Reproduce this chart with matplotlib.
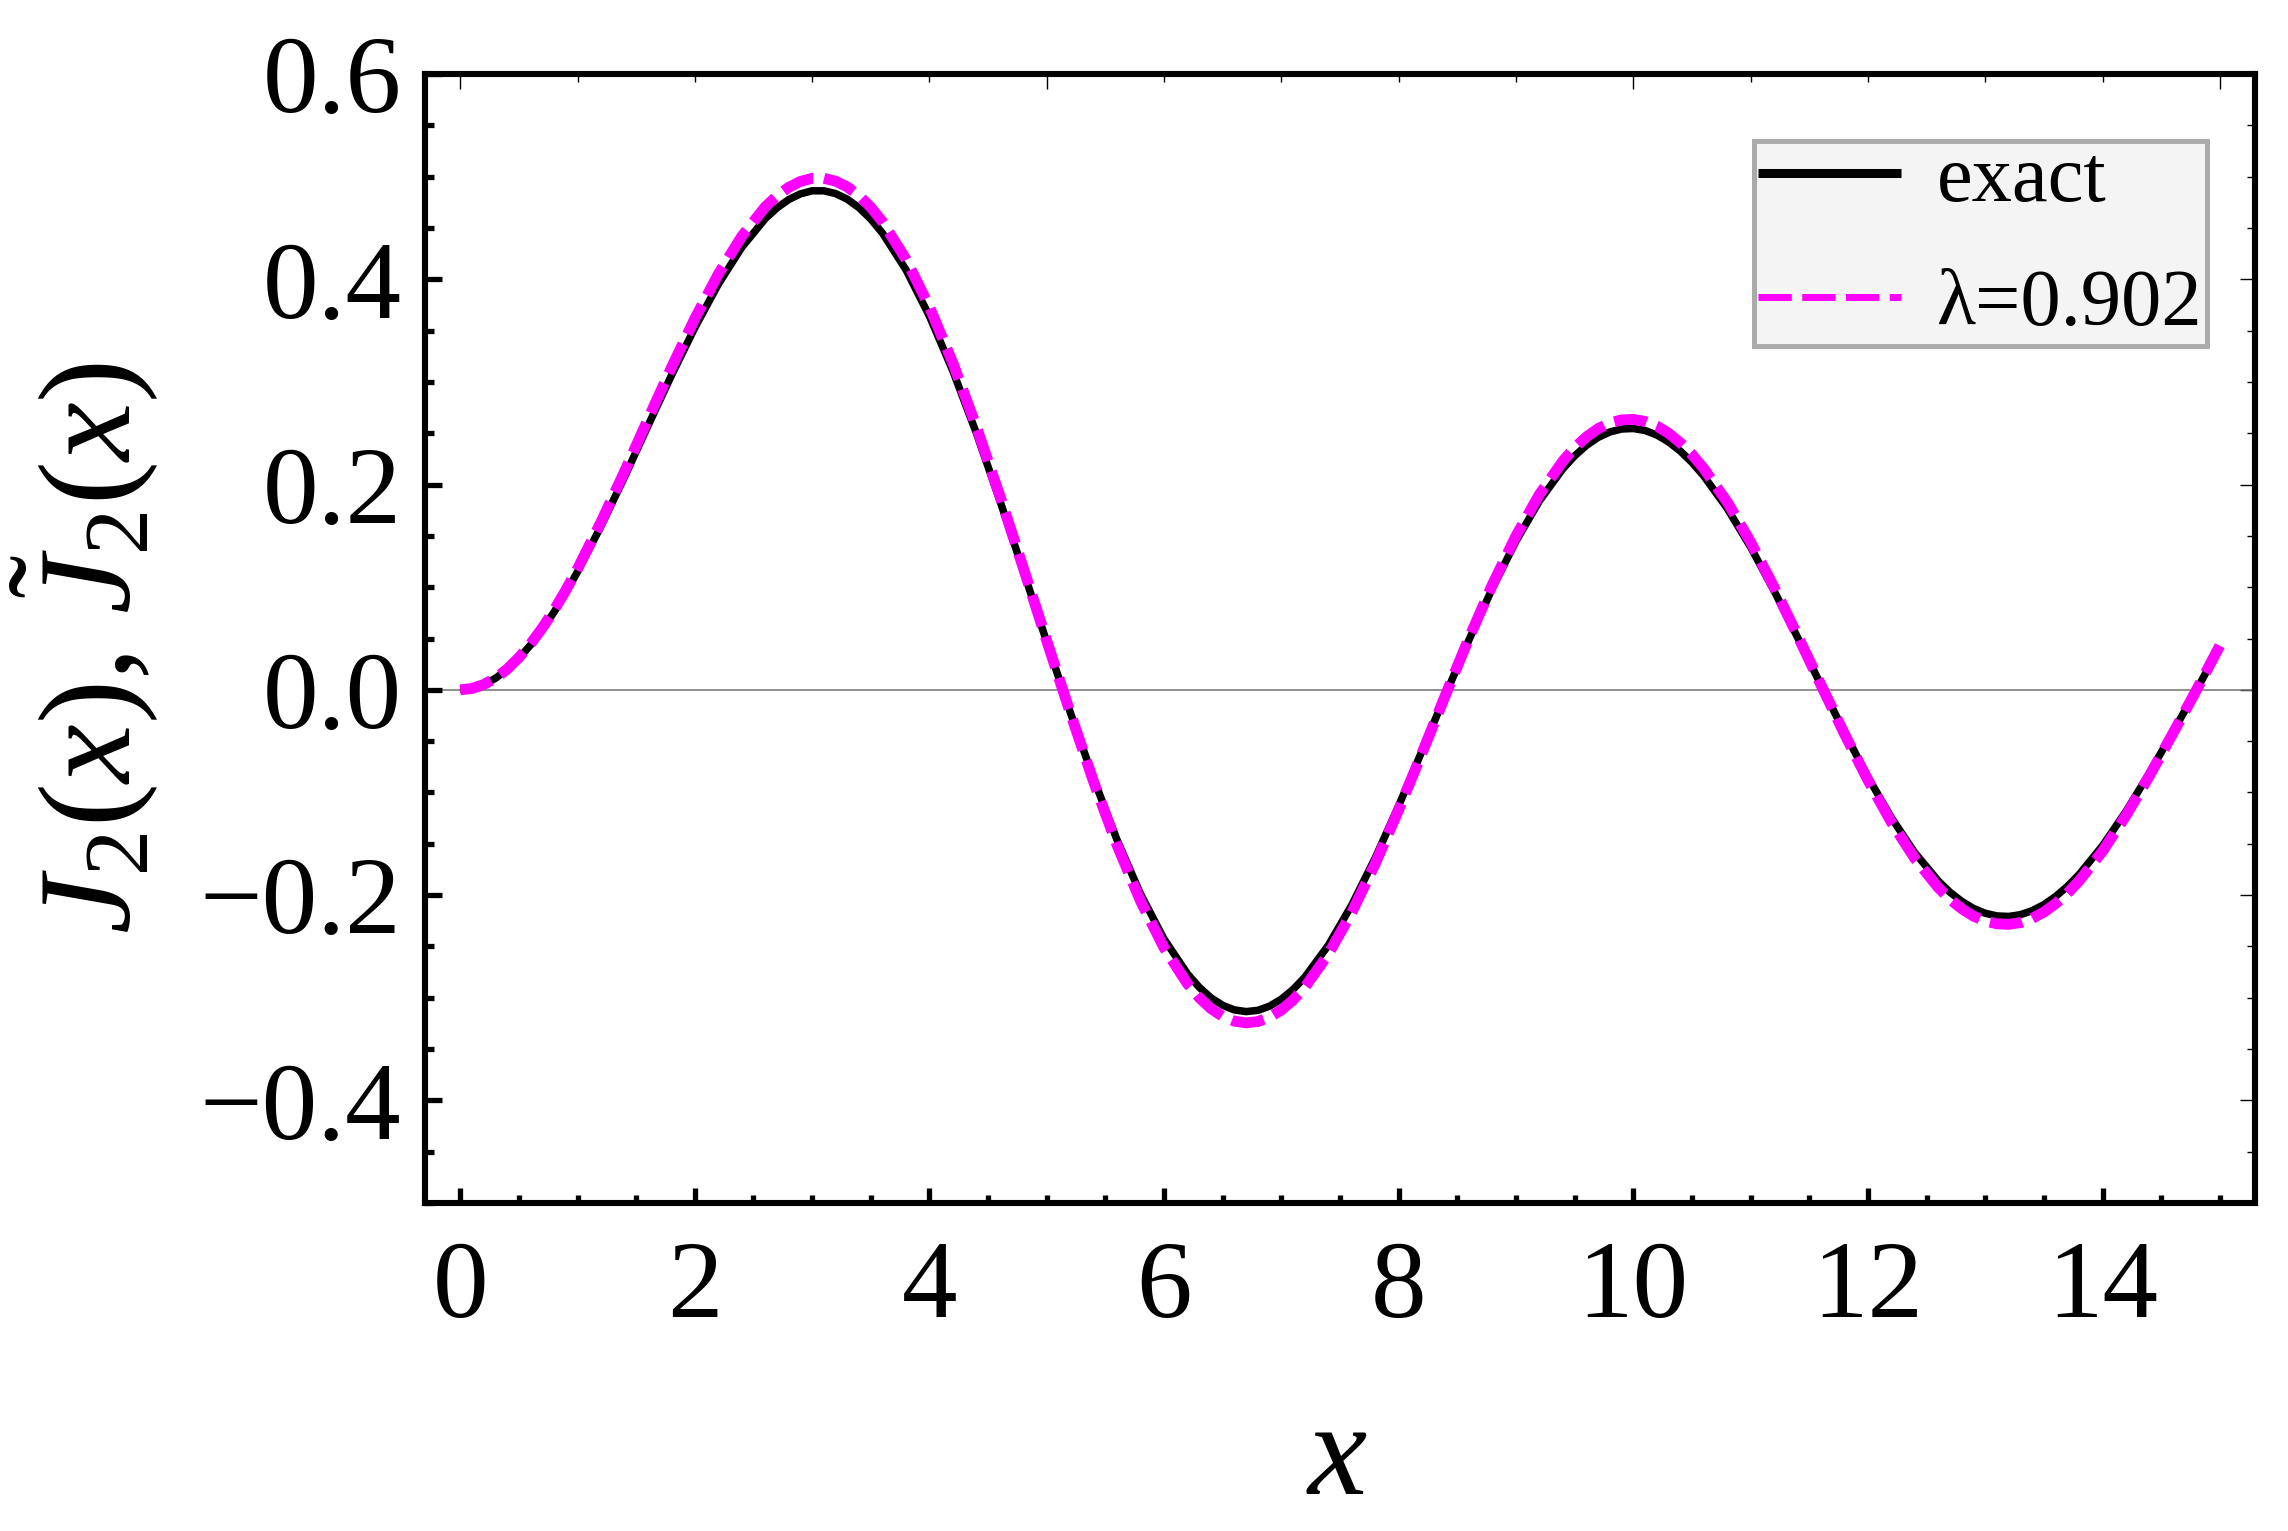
import matplotlib
matplotlib.use("Agg")
import matplotlib.pyplot as plt
from matplotlib.lines import Line2D
from matplotlib.ticker import MultipleLocator, FixedLocator

# ---------------- data ----------------
x_vals = [0.0, 0.2, 0.4, 0.6, 0.8, 1.0, 1.2, 1.4, 1.6, 1.8, 2.0, 2.2, 2.4, 2.6, 2.8,
          3.0, 3.2, 3.4, 3.6, 3.8, 4.0, 4.2, 4.4, 4.6, 4.8, 5.0, 5.2, 5.4, 5.6, 5.8,
          6.0, 6.2, 6.4, 6.6, 6.8, 7.0, 7.2, 7.4, 7.6, 7.8, 8.0, 8.2, 8.4, 8.6, 8.8,
          9.0, 9.2, 9.4, 9.6, 9.8, 10.0, 10.2, 10.4, 10.6, 10.8, 11.0, 11.2, 11.4, 11.6, 11.8,
          12.0, 12.2, 12.4, 12.6, 12.8, 13.0, 13.2, 13.4, 13.6, 13.8, 14.0, 14.2, 14.4, 14.6, 14.8,
          15.0]

exact_vals = [0.0, 0.0050, 0.0196, 0.0437, 0.0757, 0.1150, 0.1594, 0.2072, 0.2570, 0.3061,
              0.3528, 0.3951, 0.4310, 0.4590, 0.4776, 0.4862, 0.4835, 0.4697, 0.4449, 0.4093,
              0.3641, 0.3106, 0.2501, 0.1845, 0.1160, 0.0466, -0.0217, -0.0867, -0.1464, -0.1989,
              -0.2428, -0.2768, -0.3001, -0.3119, -0.3123, -0.3014, -0.2800, -0.2490, -0.2097, -0.1638,
              -0.1130, -0.0593, -0.0047, 0.0488, 0.0992, 0.1448, 0.1840, 0.2154, 0.2381, 0.2512,
              0.2546, 0.2483, 0.2327, 0.2085, 0.1769, 0.1391, 0.0966, 0.0512, 0.0046, -0.0414,
              -0.0849, -0.1246, -0.1587, -0.1862, -0.2061, -0.2177, -0.2208, -0.2152, -0.2014, -0.1800,
              -0.1520, -0.1185, -0.0810, -0.0411, -0.0004, 0.0415]

approx_vals = [0.0, 0.0051, 0.0201, 0.0448, 0.0776, 0.1179, 0.1634, 0.2124, 0.2634, 0.3138,
               0.3616, 0.4050, 0.4418, 0.4705, 0.4895, 0.4984, 0.4956, 0.4814, 0.4560, 0.4195,
               0.3732, 0.3184, 0.2564, 0.1891, 0.1189, 0.0478, -0.0222, -0.0897, -0.1515, -0.2059,
               -0.2513, -0.2865, -0.3106, -0.3228, -0.3232, -0.3119, -0.2898, -0.2577, -0.2170, -0.1695,
               -0.1170, -0.0614, -0.0049, 0.0505, 0.1027, 0.1499, 0.1904, 0.2229, 0.2464, 0.2600,
               0.2635, 0.2570, 0.2408, 0.2158, 0.1831, 0.1440, 0.1000, 0.0530, 0.0048, -0.0428,
               -0.0879, -0.1290, -0.1643, -0.1927, -0.2133, -0.2253, -0.2285, -0.2227, -0.2084, -0.1863,
               -0.1573, -0.1226, -0.0838, -0.0425, -0.0004, 0.0430]

# extra readings where the curves bend most (start and around the extrema)
x_extra = [0.1, 0.3, 0.5, 0.7, 0.9,
           2.7, 2.9, 3.1, 3.3, 3.5,
           6.3, 6.5, 6.7, 6.9, 7.1,
           9.5, 9.7, 9.9, 10.1, 10.3, 10.5,
           12.7, 12.9, 13.1, 13.3, 13.5, 13.7]
exact_extra = [0.0013, 0.0112, 0.0306, 0.0588, 0.0946,
               0.4695, 0.4832, 0.4862, 0.4780, 0.4587,
               -0.2898, -0.3074, -0.3135, -0.3082, -0.2920,
               0.2279, 0.2459, 0.2541, 0.2527, 0.2416, 0.2216,
               -0.1972, -0.2130, -0.2203, -0.2191, -0.2093, -0.1916]
approx_extra = [0.0013, 0.0114, 0.0314, 0.0603, 0.0970,
                0.4812, 0.4953, 0.4984, 0.4900, 0.4702,
                -0.2999, -0.3182, -0.3245, -0.3190, -0.3022,
                0.2359, 0.2545, 0.2630, 0.2615, 0.2501, 0.2294,
                -0.2041, -0.2205, -0.2280, -0.2268, -0.2166, -0.1983]

series_labels = ["exact", "\u03bb=0.902"]

x_ticks = [0, 2, 4, 6, 8, 10, 12, 14]
x_tick_labels = ["0", "2", "4", "6", "8", "10", "12", "14"]
y_ticks = [-0.4, -0.2, 0.0, 0.2, 0.4, 0.6]
y_tick_labels = ["\u22120.4", "\u22120.2", "0.0", "0.2", "0.4", "0.6"]
top_major_ticks = [0, 5, 10, 15]
top_minor_ticks = [1, 2, 3, 4, 6, 7, 8, 9, 11, 12, 13, 14]

x_label = "$x$"
y_label = r"$J_2(x)$, $\tilde{J}_2(x)$"

# merge the readings in x order
exact_pts = sorted(zip(x_vals + x_extra, exact_vals + exact_extra))
approx_pts = sorted(zip(x_vals + x_extra, approx_vals + approx_extra))
xe = [p[0] for p in exact_pts]
ye = [p[1] for p in exact_pts]
xa = [p[0] for p in approx_pts]
ya = [p[1] for p in approx_pts]

# ---------------- style ----------------
plt.rcParams["font.family"] = ["Liberation Serif", "DejaVu Serif"]
plt.rcParams["mathtext.fontset"] = "custom"
plt.rcParams["mathtext.rm"] = "Liberation Serif"
plt.rcParams["mathtext.it"] = "Liberation Serif:italic"
plt.rcParams["mathtext.bf"] = "Liberation Serif:bold"
plt.rcParams["lines.scale_dashes"] = False

W, H = 2288, 1531
DPI = 100
fig = plt.figure(figsize=(W / DPI, H / DPI), dpi=DPI)

ax_l, ax_r, ax_t, ax_b = 425, 2255, 74, 1203
ax = fig.add_axes([ax_l / W, 1 - ax_b / H, (ax_r - ax_l) / W, (ax_b - ax_t) / H])

ax.set_xlim(-0.3, 15.3)
ax.set_ylim(-0.5, 0.6)

ax.axhline(0.0, color="#707070", lw=1.1, zorder=1)

ax.plot(xe, ye, color="black", lw=5.4, solid_capstyle="butt",
        solid_joinstyle="round", zorder=2)
ax.plot(xa, ya, color="#ff00ff", lw=7.8, dashes=(23.5, 7.8),
        dash_capstyle="butt", dash_joinstyle="round", zorder=3)

for s in ax.spines.values():
    s.set_linewidth(4.4)
    s.set_color("black")

ax.set_xticks(x_ticks)
ax.set_xticklabels(x_tick_labels)
ax.set_yticks(y_ticks)
ax.set_yticklabels(y_tick_labels)
ax.xaxis.set_minor_locator(MultipleLocator(0.5))
ax.yaxis.set_minor_locator(MultipleLocator(0.05))

ax.tick_params(axis="both", which="both", direction="in", top=False, right=False,
               labelsize=80, color="black")
ax.tick_params(axis="y", which="major", length=12, width=3.8, pad=17)
ax.tick_params(axis="y", which="minor", length=6.5, width=3.8)
ax.tick_params(axis="x", which="major", length=11, width=3.8, pad=27)
ax.tick_params(axis="x", which="minor", length=5.8, width=3.8)

# thin mirror ticks on top and right
secx = ax.secondary_xaxis("top")
secx.set_xticks(top_major_ticks)
secx.xaxis.set_minor_locator(FixedLocator(top_minor_ticks))
secx.tick_params(axis="x", which="both", direction="in", labeltop=False, width=1.0)
secx.tick_params(axis="x", which="major", length=11)
secx.tick_params(axis="x", which="minor", length=5.5)
for s in secx.spines.values():
    s.set_visible(False)

secy = ax.secondary_yaxis("right")
secy.set_yticks(y_ticks)
secy.yaxis.set_minor_locator(MultipleLocator(0.05))
secy.tick_params(axis="y", which="both", direction="in", labelright=False, width=1.0)
secy.tick_params(axis="y", which="major", length=11)
secy.tick_params(axis="y", which="minor", length=5.5)
for s in secy.spines.values():
    s.set_visible(False)

# axis labels
fig.text(1337 / W, 1 - 1462 / H, x_label, fontsize=96, ha="center", va="center")
fig.text(84 / W, 1 - 648 / H, y_label, fontsize=95, ha="center", va="center",
         rotation=90)

# legend
handles = [Line2D([], [], color="black", lw=6.5, solid_capstyle="butt"),
           Line2D([], [], color="#ff00ff", lw=5.0, dashes=(24, 7.5), dash_capstyle="butt")]
leg = ax.legend(handles, series_labels, loc="upper right",
                bbox_to_anchor=(2207 / W, 1 - 141 / H), bbox_transform=fig.transFigure,
                fontsize=58, frameon=True, fancybox=False, framealpha=1,
                facecolor="#f4f4f4", edgecolor="#aaaaaa", borderpad=0.05,
                handlelength=1.78, handletextpad=0.45, labelspacing=0.62,
                borderaxespad=0)
leg.get_frame().set_linewidth(3.6)

fig.savefig("out.png", dpi=DPI)
